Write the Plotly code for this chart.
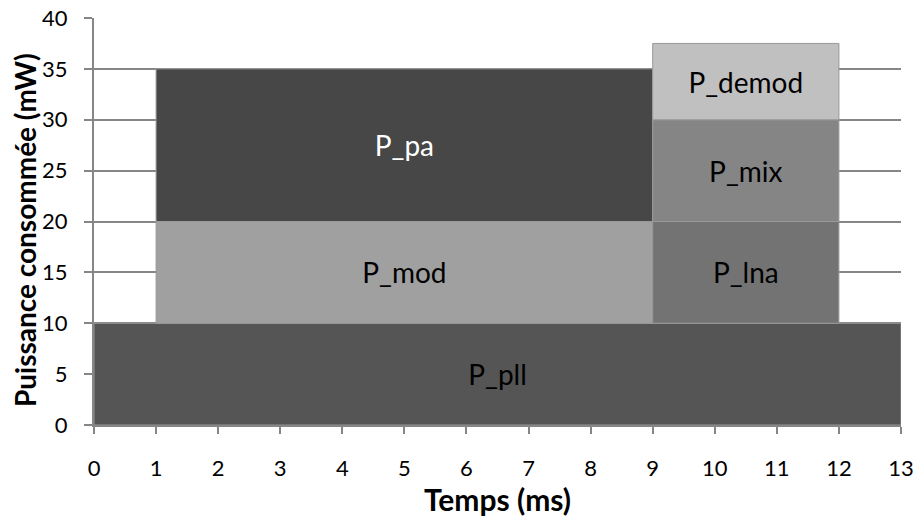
import plotly.graph_objects as go

labels = ["P_pll", "P_mod", "P_pa", "P_lna", "P_mix", "P_demod"]
t_start = [0, 1, 1, 9, 9, 9]
t_end = [13, 9, 9, 12, 12, 12]
p_bottom = [0, 10, 20, 10, 20, 30]
p_top = [10, 20, 35, 20, 30, 37.5]
colors = ["#555555", "#a0a0a0", "#474747", "#737373", "#858585", "#c0c0c0"]
text_colors = ["black", "black", "white", "black", "black", "black"]

x_ticks = list(range(0, 14))
y_ticks = list(range(0, 41, 5))

FONT = "Lato, Open Sans, sans-serif"

fig = go.Figure()
for i in range(len(labels)):
    fig.add_trace(go.Bar(
        x=[(t_start[i] + t_end[i]) / 2],
        y=[p_top[i] - p_bottom[i]],
        base=[p_bottom[i]],
        width=[t_end[i] - t_start[i]],
        marker=dict(color=colors[i], line=dict(color="#999999", width=1)),
        text=[labels[i]],
        textposition="inside",
        insidetextanchor="middle",
        textangle=0,
        textfont=dict(family=FONT, size=28, color=text_colors[i]),
        constraintext="none",
        showlegend=False,
        hoverinfo="skip",
    ))

fig.update_layout(
    width=916, height=517,
    margin=dict(l=94, r=15, t=18, b=92),
    plot_bgcolor="white", paper_bgcolor="white",
    barmode="overlay",
    uniformtext=dict(mode=False),
    font=dict(family=FONT, size=22, color="black"),
)
fig.update_xaxes(
    range=[0, 13], tickvals=x_ticks, ticktext=[str(v) for v in x_ticks],
    showgrid=False, zeroline=False, automargin=False,
    showline=True, linecolor="#868686", linewidth=2,
    ticks="outside", ticklen=7, tickcolor="#868686", tickwidth=2,
    ticklabelstandoff=16, ticklabeloverflow="allow",
    tickfont=dict(family=FONT, size=22),
    title=dict(text="<b>Temps (ms)</b>", font=dict(family=FONT, size=30), standoff=0),
)
fig.update_yaxes(
    range=[0, 40], tickvals=y_ticks,
    showgrid=True, gridcolor="#868686", gridwidth=1.5,
    zeroline=False, automargin=False,
    showline=True, linecolor="#868686", linewidth=2,
    ticks="outside", ticklen=8, tickcolor="#868686", tickwidth=1.5,
    ticklabelstandoff=12, ticklabeloverflow="allow",
    tickfont=dict(family=FONT, size=22),
)
fig.add_annotation(
    text="<b>Puissance consommée (mW)</b>",
    xref="paper", yref="paper", x=-0.0855, y=0.479,
    xanchor="center", yanchor="middle", textangle=-90,
    showarrow=False, font=dict(family=FONT, size=28, color="black"),
)

fig.write_html(
    "out.html",
    config={"displayModeBar": False},
    post_script="document.body.style.margin='0';document.body.style.overflow='hidden';",
)
